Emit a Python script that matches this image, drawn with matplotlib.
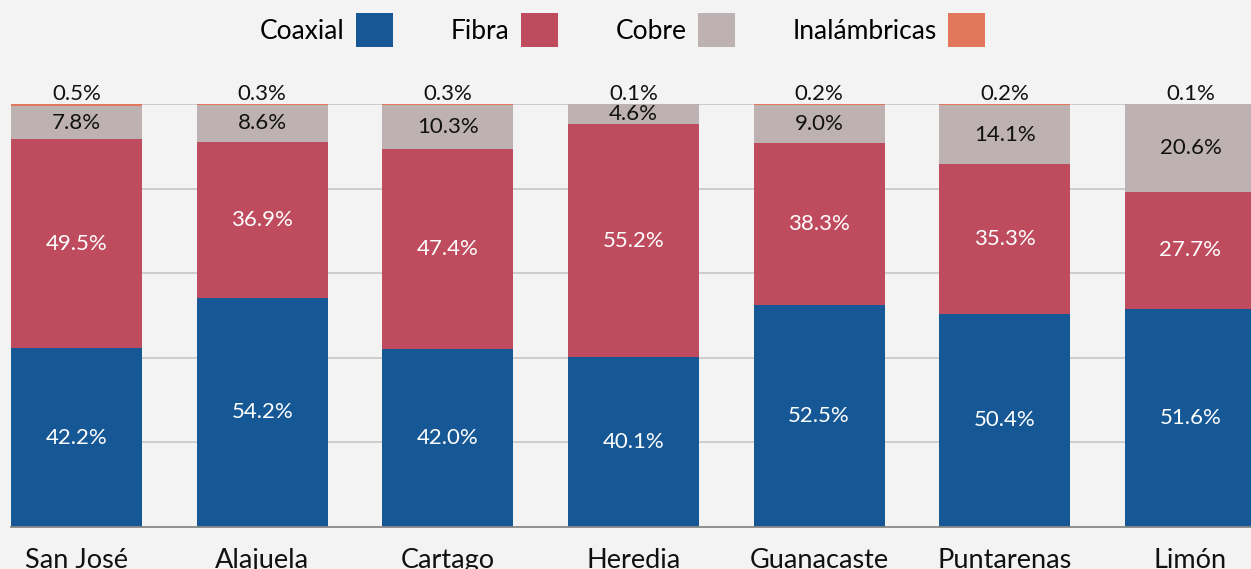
import numpy as np
import matplotlib.pyplot as plt

plt.rcParams['font.family'] = ['Lato', 'DejaVu Sans']

provincias = ['San José', 'Alajuela', 'Cartago', 'Heredia', 'Guanacaste', 'Puntarenas', 'Limón']
coaxial = [42.2, 54.2, 42.0, 40.1, 52.5, 50.4, 51.6]
fibra = [49.5, 36.9, 47.4, 55.2, 38.3, 35.3, 27.7]
cobre = [7.8, 8.6, 10.3, 4.6, 9.0, 14.1, 20.6]
inalambricas = [0.5, 0.3, 0.3, 0.1, 0.2, 0.2, 0.1]

series = [('Coaxial', coaxial, '#165896', 'white'),
          ('Fibra', fibra, '#be4b5e', 'white'),
          ('Cobre', cobre, '#bdb1b2', '#111111'),
          ('Inalámbricas', inalambricas, '#e2775c', '#111111')]

bg = '#f3f3f3'
fig = plt.figure(figsize=(12.51, 5.69), dpi=100)
fig.set_facecolor(bg)
ax = fig.add_axes([11 / 1251, 42 / 569, 1 - 11 / 1251, 423 / 569])
ax.set_facecolor(bg)

x = np.arange(len(provincias))
w = 0.705
bottom = np.zeros(len(provincias))
handles = []
for name, vals, col, tcol in series:
    vals = np.array(vals)
    b = ax.bar(x, vals, w, bottom=bottom, color=col, label=name, zorder=3)
    handles.append(b)
    for xi, v, b0 in zip(x, vals, bottom):
        if name == 'Inalámbricas':
            y = b0 + v + 2.3
        else:
            y = b0 + v / 2
        ax.text(xi, y, '%.1f%%' % v, ha='center', va='center',
                color=tcol, fontsize=16, zorder=4)
    bottom += vals

ax.set_ylim(0, 100)
ax.set_xlim(-0.353, 6.326)
ax.set_yticks([20, 40, 60, 80, 100])
ax.yaxis.grid(True, color='#c6c6c6', linewidth=1.2, zorder=0)
ax.tick_params(axis='y', left=False, labelleft=False)
ax.tick_params(axis='x', length=0, pad=15, labelsize=19.5, labelcolor='#111111')
ax.set_xticks(x)
ax.set_xticklabels(provincias)
for s in ['top', 'right', 'left']:
    ax.spines[s].set_visible(False)
ax.spines['bottom'].set_color('#888888')
ax.spines['bottom'].set_linewidth(1.3)
ax.spines['bottom'].set_zorder(5)

fig.legend(handles=handles, loc='center', bbox_to_anchor=(0.4976, 0.947),
           ncol=4, frameon=False, markerfirst=False, fontsize=19,
           handlelength=1.4, handleheight=1.6, handletextpad=0.42,
           columnspacing=2.2)

fig.savefig('out.png', dpi=100, facecolor=bg)
